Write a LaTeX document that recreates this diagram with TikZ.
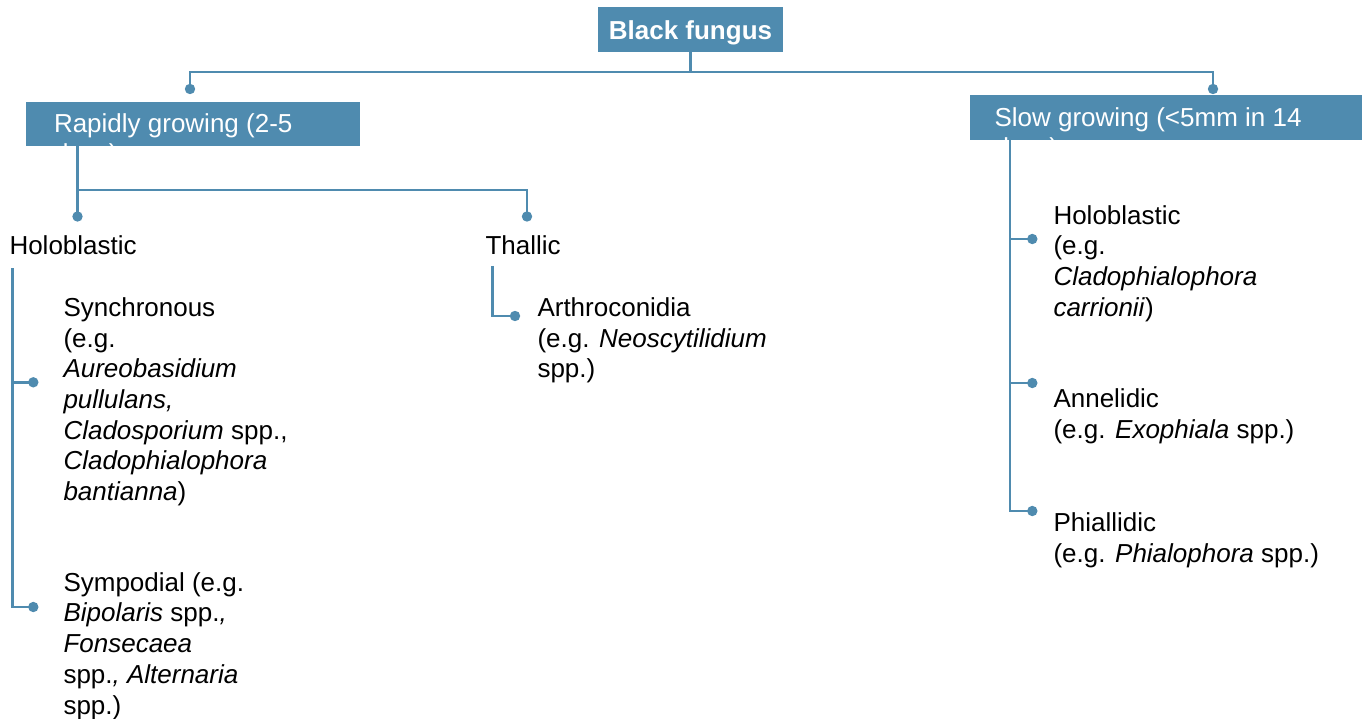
\documentclass[tikz,border=0pt]{standalone}
\usepackage{fontspec}
\setmainfont{Liberation Sans}
\definecolor{fb}{RGB}{79,139,175}
\begin{document}
\begin{tikzpicture}[x=1pt,y=-1pt,
  box/.style={fill=fb, draw=none, inner sep=0, outer sep=0},
  boxtxt/.style={inner sep=0, outer sep=0, align=left, text=white, font=\fontsize{26}{30.7}\selectfont},
  txt/.style={inner sep=0, outer sep=0, align=left, anchor=base west, text=black, font=\fontsize{26}{30.7}\selectfont},
  conn/.style={draw=fb, line width=2.6pt, line join=miter},
  dot/.style={fill=fb}]
\useasboundingbox (0,0) rectangle (1367,719);

% boxes (multi-line nodes are placed by the baseline of their last line)
\node[box, minimum width=185pt, minimum height=45pt] (bf) at (690.5,30) {};
\node[boxtxt, anchor=base, font=\fontsize{26}{30.7}\selectfont\bfseries] (bflbl) at (690.5,39.5) {Black fungus};
\node[box, minimum width=334pt, minimum height=44.5pt] (rg) at (193,124.25) {};
\node[boxtxt, anchor=base west] (rglbl) at (54,163) {Rapidly growing (2-5\\days)};
\node[box, minimum width=392pt, minimum height=45pt] (sg) at (1166,117.5) {};
\node[boxtxt, anchor=base west] (sglbl) at (994.5,157) {Slow growing (<5mm in 14\\days)};

% junction coordinates and dots
\coordinate (j0) at (690.5,72);
\coordinate (dL) at (190,89);
\coordinate (dR) at (1213,89);
\coordinate (rj) at (77.5,190);
\coordinate (hdot) at (77.5,216.5);
\coordinate (tdot) at (527,216.5);
\coordinate (hv) at (12.3,268);
\coordinate (syndot) at (33.3,382.3);
\coordinate (symdot) at (33.3,607);
\coordinate (tv) at (492.7,266);
\coordinate (adot) at (515,316);
\coordinate (sv) at (1010,139);
\coordinate (s1) at (1032.3,239);
\coordinate (s2) at (1032.3,383);
\coordinate (s3) at (1032.3,511);

% connectors
\draw[conn] (bf.south) -- (j0);
\draw[conn] (dL) |- (j0) -| (dR);
\draw[conn] (rj |- rg.south) -- (hdot);
\draw[conn] (rj) -| (tdot);
\draw[conn] (hv) |- (symdot);
\draw[conn] (hv |- syndot) -- (syndot);
\draw[conn] (tv) |- (adot);
\draw[conn] (sv |- sg.south) |- (s3);
\draw[conn] (sv |- s1) -- (s1);
\draw[conn] (sv |- s2) -- (s2);

\foreach \p in {dL,dR,hdot,tdot,syndot,symdot,adot,s1,s2,s3}
  \fill[dot] (\p) circle (5.2pt);

% texts
\node[txt] (holo) at (9.5,254.5) {Holoblastic};
\node[txt] (thal) at (485.5,254.5) {Thallic};
\node[txt] (sync) at (63.5,500.5) {Synchronous\\(e.g.\\\textit{Aureobasidium}\\\textit{pullulans,}\\\textit{Cladosporium} spp.,\\\textit{Cladophialophora}\\\textit{bantianna})};
\node[txt] (symp) at (63.5,714) {Sympodial (e.g.\\\textit{Bipolaris} spp.\textit{,}\\\textit{Fonsecaea}\\spp.\textit{,} \textit{Alternaria}\\spp.)};
\node[txt] (arth) at (537.5,377.8) {Arthroconidia\\(e.g. \textit{Neoscytilidium}\\spp.)};
\node[txt] (sholo) at (1053.5,316.2) {Holoblastic\\(e.g.\\\textit{Cladophialophora}\\\textit{carrionii})};
\node[txt] (anne) at (1053.5,438.6) {Annelidic\\(e.g. \textit{Exophiala} spp.)};
\node[txt] (phia) at (1053.5,562) {Phiallidic\\(e.g. \textit{Phialophora} spp.)};
\end{tikzpicture}
\end{document}
